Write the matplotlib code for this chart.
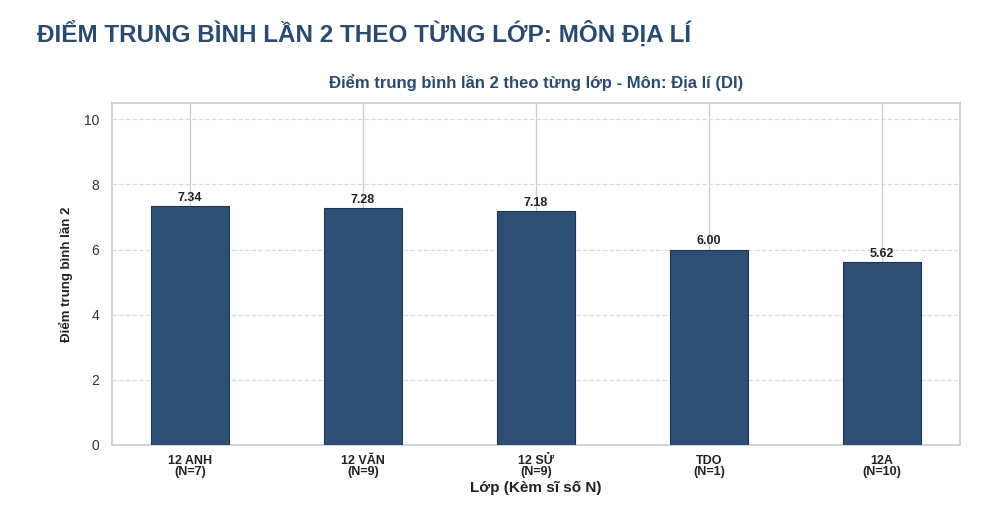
import numpy as np
import matplotlib
matplotlib.use('Agg')
import matplotlib.pyplot as plt

plt.rcParams['font.family'] = ['Liberation Sans', 'DejaVu Sans']

classes = ['12 ANH', '12 VĂN', '12 SỬ', 'TDO', '12A']
counts = [7, 9, 9, 1, 10]
scores = [7.34, 7.28, 7.18, 6.00, 5.62]
yticks = [0, 2, 4, 6, 8, 10]

BAR_COLOR = '#2e4f74'
TITLE_COLOR = '#2b4a6f'

fig = plt.figure(figsize=(10, 5.18), dpi=100)
ax = fig.add_axes([0.112, 0.141, 0.848, 0.660])

x = np.arange(len(classes))
bars = ax.bar(x, scores, width=0.45, color=BAR_COLOR, edgecolor='#1f3550', linewidth=0.8, zorder=3)

for b, v in zip(bars, scores):
    ax.text(b.get_x() + b.get_width() / 2, v + 0.07, f'{v:.2f}', ha='center', va='bottom',
            fontsize=9, fontweight='bold', color='#222222', zorder=4)

ax.set_xlim(-0.45, len(classes) - 0.55)
ax.set_ylim(0, 10.5)
ax.set_yticks(yticks)
ax.set_xticks(x)
ax.set_xticklabels([f'{c}\n(N={n})' for c, n in zip(classes, counts)],
                   fontsize=9, fontweight='bold', color='#222222', linespacing=0.95)
ax.tick_params(axis='y', labelsize=10, colors='#333333', length=0, pad=9)
ax.tick_params(axis='x', length=0, pad=7)

ax.yaxis.grid(True, linestyle='--', color='#d9dde3', linewidth=0.9, zorder=0)
ax.xaxis.grid(True, linestyle='-', color='#cccccc', linewidth=0.9, zorder=0)
for s in ax.spines.values():
    s.set_color('#cccccc')
    s.set_linewidth(1.2)

ax.set_ylabel('Điểm trung bình lần 2', fontsize=9.5, fontweight='bold', color='#222222', labelpad=8)
ax.set_xlabel('Lớp (Kèm sĩ số N)', fontsize=11, fontweight='bold', color='#222222', labelpad=2)
ax.set_title('Điểm trung bình lần 2 theo từng lớp - Môn: Địa lí (DI)', fontsize=12,
             fontweight='bold', color=TITLE_COLOR, pad=11)

fig.text(0.037, 0.935, 'ĐIỂM TRUNG BÌNH LẦN 2 THEO TỪNG LỚP: MÔN ĐỊA LÍ', fontsize=17.5,
         fontweight='bold', color=TITLE_COLOR, ha='left', va='center')

fig.savefig('out.png', dpi=100, facecolor='white')
